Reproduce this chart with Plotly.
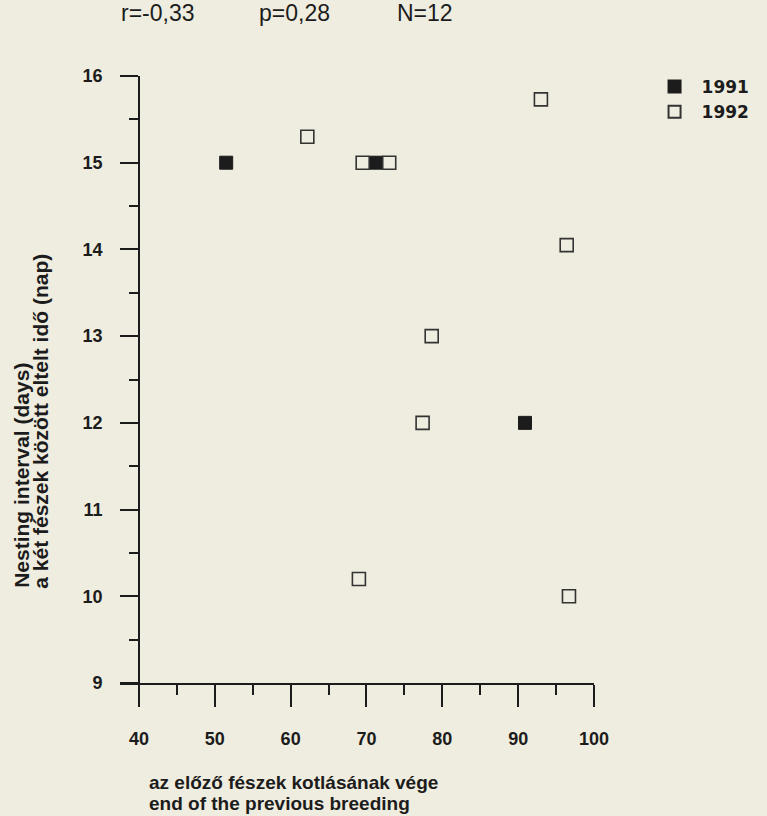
import plotly.graph_objects as go

# Data
x_1991 = [51.5, 71.3, 90.9]
y_1991 = [15.0, 15.0, 12.0]
x_1992 = [62.2, 69.5, 73.0, 93.0, 96.4, 78.6, 77.4, 69.0, 96.7]
y_1992 = [15.3, 15.0, 15.0, 15.73, 14.05, 13.0, 12.0, 10.2, 10.0]
series_names = ["1991", "1992"]
stats_labels = ["r=-0,33", "p=0,28", "N=12"]
x_title_lines = ["az előző fészek kotlásának vége", "end of the previous breeding"]
y_title_lines = ["Nesting interval (days)", "a két fészek között eltelt idő (nap)"]

BG = "#efeddf"
INK = "#1c1c1c"
FONT = "Liberation Sans"

W, H = 767, 816
L, R, T, B = 120, 169, 76, 133
PW, PH = W - L - R, H - T - B

def px_x(px):
    return (px - L) / PW

def px_y(py):
    return (H - B - py) / PH

fig = go.Figure()
fig.add_trace(go.Scatter(
    x=x_1991, y=y_1991, mode="markers", name=series_names[0],
    marker=dict(symbol="square", size=13, color=INK, line=dict(color=INK, width=1)),
))
fig.add_trace(go.Scatter(
    x=x_1992, y=y_1992, mode="markers", name=series_names[1],
    marker=dict(symbol="square", size=13, color=BG, line=dict(color="#333333", width=1.6)),
))

annotations = []
for txt, cx in zip(stats_labels, [158, 296, 428]):
    annotations.append(dict(text=txt, x=px_x(cx), y=px_y(13), xref="paper", yref="paper",
                            xanchor="center", yanchor="middle", showarrow=False,
                            font=dict(family=FONT, size=23, color=INK)))
for txt, cy in zip(x_title_lines, [782, 803]):
    annotations.append(dict(text="<b>%s</b>" % txt, x=px_x(147), y=px_y(cy), xref="paper", yref="paper",
                            xanchor="left", yanchor="middle", showarrow=False,
                            font=dict(family=FONT, size=19, color=INK)))
for txt, cx, cy in zip(y_title_lines, [20, 39], [475, 421]):
    annotations.append(dict(text="<b>%s</b>" % txt, x=px_x(cx), y=px_y(cy), xref="paper", yref="paper",
                            xanchor="center", yanchor="middle", showarrow=False, textangle=-90,
                            font=dict(family=FONT, size=21, color=INK)))

fig.update_layout(
    width=W, height=H,
    margin=dict(l=L, r=R, t=T, b=B, pad=0),
    paper_bgcolor=BG, plot_bgcolor=BG,
    font=dict(family=FONT, color=INK),
    showlegend=True,
    legend=dict(x=px_x(652), y=px_y(69), xanchor="left", yanchor="top",
                bgcolor="rgba(0,0,0,0)", font=dict(family="DejaVu Sans", size=17, color=INK, weight="bold"),
                itemsizing="constant", itemwidth=44, tracegroupgap=0),
    annotations=annotations,
    xaxis=dict(range=[37.5, 100], showgrid=False, zeroline=False,
               showline=True, linecolor=INK, linewidth=1.5,
               ticks="outside", tickmode="linear", tick0=40, dtick=10,
               ticklen=22, tickwidth=1.5, tickcolor=INK,
               minor=dict(ticks="outside", dtick=5, tick0=40, ticklen=10, tickwidth=1.5, tickcolor=INK),
               tickfont=dict(family=FONT, size=18, color=INK, weight="bold"),
               ticklabelstandoff=17),
    yaxis=dict(range=[9, 16], showgrid=False, zeroline=False,
               anchor="free", position=(40 - 37.5) / 62.5,
               showline=True, linecolor=INK, linewidth=1.5,
               ticks="outside", tickmode="linear", tick0=9, dtick=1,
               ticklen=18, tickwidth=1.5, tickcolor=INK,
               minor=dict(ticks="outside", dtick=0.5, tick0=9, ticklen=9, tickwidth=1.5, tickcolor=INK),
               tickfont=dict(family=FONT, size=18, color=INK, weight="bold"),
               ticklabelstandoff=14),
)

fig.write_html(
    "out.html",
    config={"displayModeBar": False},
    post_script="document.body.style.margin='0';document.body.style.background='%s';" % BG,
)
